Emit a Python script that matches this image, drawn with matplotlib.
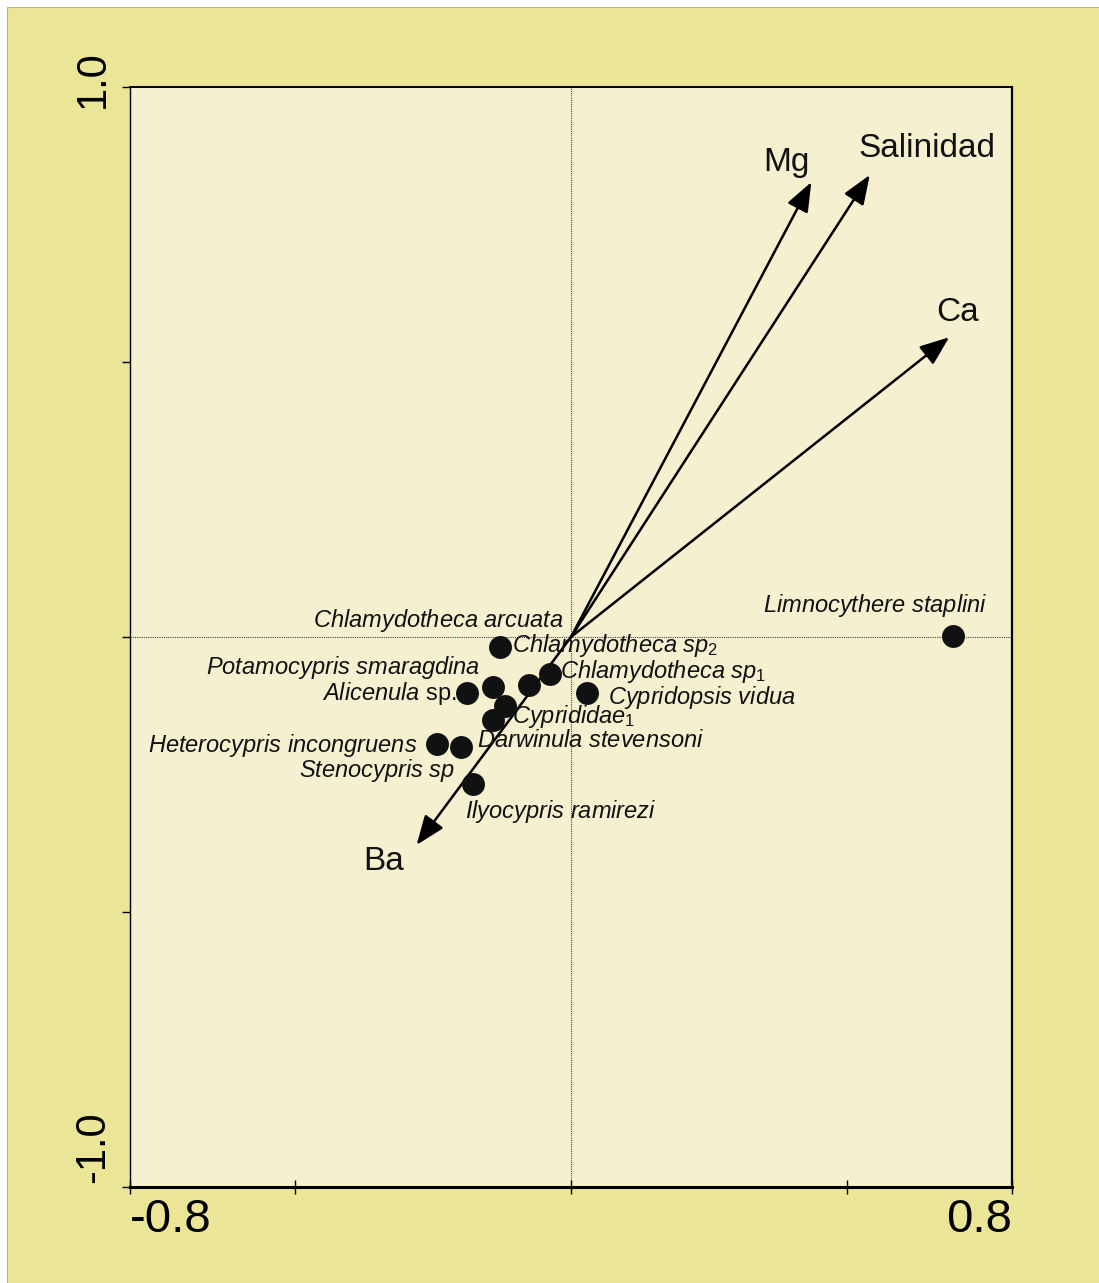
import matplotlib
matplotlib.use("Agg")
import matplotlib.pyplot as plt
from matplotlib.patches import Rectangle

plt.rcParams['font.family'] = ['Liberation Sans', 'DejaVu Sans']
plt.rcParams['mathtext.fontset'] = 'custom'
plt.rcParams['mathtext.rm'] = 'Liberation Sans'
plt.rcParams['mathtext.it'] = 'Liberation Sans:italic'

# ===== DATOS =====

especies = [
    r"$\mathit{Limnocythere\ staplini}$",
    r"$\mathit{Chlamydotheca\ sp_2}$",
    r"$\mathit{Chlamydotheca\ sp_1}$",
    r"$\mathit{Cypridopsis\ vidua}$",
    r"$\mathit{Chlamydotheca\ arcuata}$",
    r"$\mathit{Potamocypris\ smaragdina}$",
    r"$\mathit{Alicenula}$ sp.",
    r"$\mathit{Cyprididae_1}$",
    r"$\mathit{Darwinula\ stevensoni}$",
    r"$\mathit{Heterocypris\ incongruens}$",
    r"$\mathit{Stenocypris\ sp}$",
    r"$\mathit{Ilyocypris\ ramirezi}$",
]
esp_x = [0.693, -0.129, -0.038, 0.029, -0.076, -0.141, -0.189, -0.120, -0.141, -0.243, -0.200, -0.178]
esp_y = [0.002, -0.018, -0.067, -0.102, -0.087, -0.091, -0.102, -0.125, -0.151, -0.195, -0.200, -0.267]

variables = ["Mg", "Salinidad", "Ca", "Ba"]
var_x = [0.436, 0.542, 0.686, -0.280]
var_y = [0.827, 0.840, 0.545, -0.378]

# posicion de etiquetas (offset en puntos, alineacion)
off_esp = [(-56, 22, "center"), (9, 1, "left"), (7, 2, "left"), (15, -3, "left"),
           (25, 46, "right"), (-9, 14, "right"), (-7, 0, "right"), (5, -8, "left"),
           (-12, -15, "left"), (-14, -1, "right"), (-4, -17, "right"), (-6, -20, "left")]
off_var = [(-18, 14), (41, 19), (6, 18), (-24, -12)]

# ===== GRAFICA =====

fig = plt.figure(figsize=(10.99, 12.83), dpi=100, facecolor="white")
fondo = Rectangle((7 / 1099, 0), 1.0, 1 - 7 / 1283, transform=fig.transFigure,
                  facecolor="#ebe697", edgecolor="#b8b48a", linewidth=0.8, zorder=-10)
fig.patches.append(fondo)

ax = fig.add_axes([130 / 1099, 96 / 1283, 882 / 1099, 1100 / 1283])
ax.set_facecolor("#f5f0d0")
ax.set_xlim(-0.8, 0.8)
ax.set_ylim(-1.0, 1.0)

ax.axhline(0, color="#444444", lw=0.8, ls=(0, (1, 1)), zorder=1)
ax.axvline(0, color="#444444", lw=0.8, ls=(0, (1, 1)), zorder=1)

for vx, vy, nombre, (dx, dy) in zip(var_x, var_y, variables, off_var):
    ax.annotate("", xy=(vx, vy), xytext=(0, 0),
                arrowprops=dict(arrowstyle="-|>,head_length=0.9,head_width=0.35",
                                lw=1.8, color="black", shrinkA=0, shrinkB=0,
                                mutation_scale=20), zorder=3)
    ax.annotate(nombre, xy=(vx, vy), xytext=(dx, dy), textcoords="offset points",
                ha="center", va="center", fontsize=24, color="#111111")

ax.scatter(esp_x, esp_y, s=16.5 ** 2, color="#111111", zorder=4, linewidths=0)

for ex, ey, nombre, (dx, dy, ha) in zip(esp_x, esp_y, especies, off_esp):
    ax.annotate(nombre, xy=(ex, ey), xytext=(dx, dy), textcoords="offset points",
                ha=ha, va="center", fontsize=17, color="#111111", zorder=5)

ax.set_xticks([-0.8, -0.5, 0, 0.5, 0.8])
ax.set_xticklabels(["-0.8", "", "", "", "0.8"], fontsize=34)
xl = ax.get_xticklabels()
xl[0].set_ha("left")
xl[-1].set_ha("right")

# etiquetas del eje y (giradas)
ax.set_yticks([-1.0, -0.5, 0, 0.5, 1.0])
ax.set_yticklabels([])
ax.annotate("1.0", xy=(0, 1.0), xycoords=ax.get_yaxis_transform(),
            xytext=(-12, 6), textcoords="offset points",
            rotation=90, ha="right", va="center", fontsize=30)
ax.annotate("-1.0", xy=(0, -1.0), xycoords=ax.get_yaxis_transform(),
            xytext=(-12, 29), textcoords="offset points",
            rotation=90, ha="right", va="center", fontsize=30)

ax.tick_params(axis="x", direction="inout", length=10, width=1, pad=3)
ax.tick_params(axis="y", direction="out", length=6, width=1)

ax.spines["bottom"].set_linewidth(2.2)
ax.spines["right"].set_linewidth(1.6)
ax.spines["top"].set_linewidth(1.4)
ax.spines["left"].set_linewidth(1.0)

plt.savefig("out.png", dpi=100, facecolor=fig.get_facecolor())
plt.close()
